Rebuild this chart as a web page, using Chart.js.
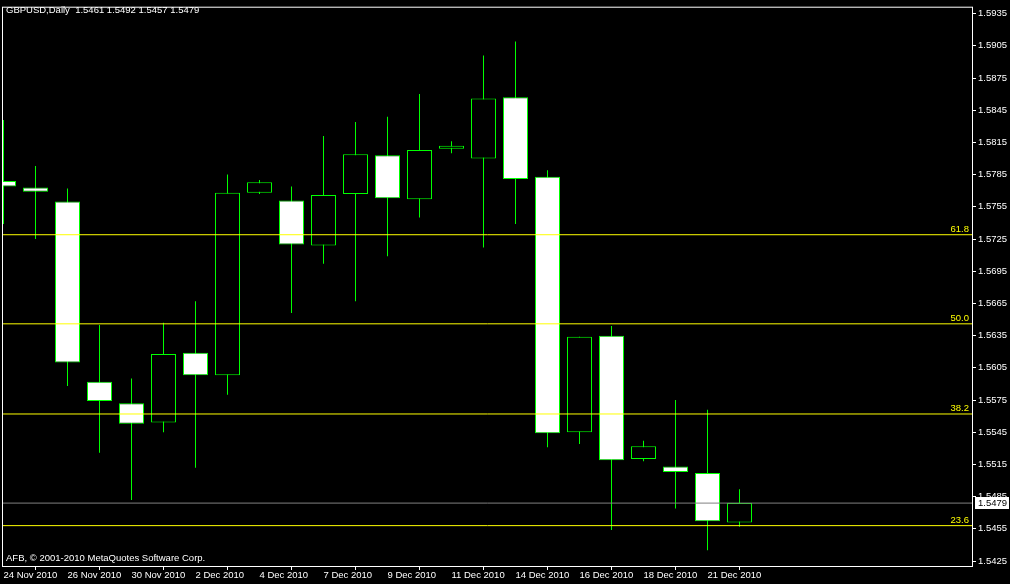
<!DOCTYPE html>
<html>
<head>
<meta charset="utf-8">
<script src="https://cdn.jsdelivr.net/npm/chart.js@4"></script>
<style>
  html, body { margin: 0; padding: 0; background: #000; }
  canvas { display: block; }
</style>
</head>
<body>
<canvas id="chart" width="1010" height="584"></canvas>
<script>
// GBPUSD daily bars
const dates = ['24 Nov 2010', '25 Nov 2010', '26 Nov 2010', '29 Nov 2010', '30 Nov 2010', '1 Dec 2010',
  '2 Dec 2010', '3 Dec 2010', '4 Dec 2010', '6 Dec 2010', '7 Dec 2010', '8 Dec 2010', '9 Dec 2010',
  '10 Dec 2010', '11 Dec 2010', '13 Dec 2010', '14 Dec 2010', '15 Dec 2010', '16 Dec 2010',
  '17 Dec 2010', '18 Dec 2010', '20 Dec 2010', '21 Dec 2010', '22 Dec 2010']
const opens  = [1.5779, 1.5773, 1.5760, 1.5592, 1.5572, 1.5554, 1.5619, 1.5598, 1.5768, 1.5761, 1.5719, 1.5767,
  1.5803, 1.5762, 1.5809, 1.5800, 1.5857, 1.5783, 1.5545, 1.5635, 1.5520, 1.5513, 1.5507, 1.5461]
const highs  = [1.5836, 1.5793, 1.5772, 1.5645, 1.5595, 1.5647, 1.5667, 1.5785, 1.5780, 1.5774, 1.5821, 1.5834,
  1.5839, 1.5860, 1.5816, 1.5896, 1.5909, 1.5789, 1.5634, 1.5644, 1.5537, 1.5575, 1.5566, 1.5492]
const lows   = [1.5739, 1.5725, 1.5588, 1.5526, 1.5482, 1.5545, 1.5512, 1.5580, 1.5767, 1.5656, 1.5702, 1.5667,
  1.5709, 1.5745, 1.5805, 1.5717, 1.5739, 1.5531, 1.5534, 1.5454, 1.5518, 1.5474, 1.5435, 1.5457]
const closes = [1.5774, 1.5769, 1.5610, 1.5574, 1.5553, 1.5618, 1.5598, 1.5768, 1.5778, 1.5720, 1.5766, 1.5804,
  1.5763, 1.5808, 1.5812, 1.5856, 1.5781, 1.5544, 1.5634, 1.5519, 1.5532, 1.5508, 1.5462, 1.5479]

const yTicks = [1.5425, 1.5455, 1.5485, 1.5515, 1.5545, 1.5575, 1.5605, 1.5635, 1.5665, 1.5695,
  1.5725, 1.5755, 1.5785, 1.5815, 1.5845, 1.5875, 1.5905, 1.5935]
const xTicks = [0, 2, 4, 6, 8, 10, 12, 14, 16, 18, 20, 22]

const fibLevels = ['23.6', '38.2', '50.0', '61.8']
const fibPrices = [1.5458, 1.5562, 1.5646, 1.5729]

const title = 'GBPUSD,Daily  1.5461 1.5492 1.5457 1.5479'
const footer = 'AFB, \u00a9 2001-2010 MetaQuotes Software Corp.'

const X_MIN = -0.015625, X_MAX = 30.265625
const Y_MIN = 1.54204, Y_MAX = 1.59405
const GREEN = '#00ff00'
const FONT = '9.5px "Liberation Sans", Arial, sans-serif'
const bid = closes[closes.length - 1]

const wickData = dates.map((d, i) => ({ x: i, y: [lows[i], highs[i]] }))
const bodyData = dates.map((d, i) => ({ x: i, y: [opens[i], closes[i]] }))
const bodyFill = dates.map((d, i) => closes[i] < opens[i] ? '#ffffff' : '#000000')

const fibSets = fibPrices.map((p) => ({
  type: 'line',
  data: [{ x: X_MIN, y: p }, { x: X_MAX, y: p }],
  borderColor: '#ffff00',
  borderWidth: 1,
  pointRadius: 0,
  order: -1
}))

const extras = {
  id: 'extras',
  beforeDraw(chart) {
    const ctx = chart.ctx
    ctx.save()
    ctx.fillStyle = '#000'
    ctx.fillRect(0, 0, chart.width, chart.height)
    ctx.restore()
  },
  afterDraw(chart) {
    const ctx = chart.ctx
    const a = chart.chartArea
    const y = chart.scales.y
    ctx.save()
    // frame
    ctx.strokeStyle = '#ffffff'
    ctx.lineWidth = 1
    ctx.strokeRect(a.left - 0.5, a.top - 0.5, a.right - a.left + 1, a.bottom - a.top + 1)

    ctx.font = FONT
    ctx.textBaseline = 'middle'
    ctx.fillStyle = '#ffffff'
    ctx.textAlign = 'left'
    ctx.fillText(title, 6, 10)
    ctx.fillText(footer, 6, 558)

    // fibo level labels
    ctx.fillStyle = '#ffff00'
    ctx.textAlign = 'right'
    ctx.textBaseline = 'bottom'
    fibPrices.forEach((p, i) => {
      ctx.fillText(fibLevels[i], a.right - 3, Math.round(y.getPixelForValue(p)) - 0.5)
    })

    // bid price box
    const by = Math.round(y.getPixelForValue(bid))
    ctx.fillStyle = '#ffffff'
    ctx.fillRect(a.right + 3, by - 6, 34, 12)
    ctx.fillStyle = '#000000'
    ctx.textAlign = 'left'
    ctx.textBaseline = 'middle'
    ctx.fillText(bid.toFixed(4), a.right + 6, by)
    ctx.restore()
  }
}

new Chart(document.getElementById('chart'), {
  type: 'bar',
  data: {
    datasets: [
      {
        type: 'bar',
        data: bodyData,
        backgroundColor: bodyFill,
        borderColor: GREEN,
        borderWidth: 1,
        borderSkipped: false,
        inflateAmount: 0,
        barThickness: 25,
        grouped: false,
        order: 0
      },
      {
        type: 'bar',
        data: wickData,
        backgroundColor: GREEN,
        borderWidth: 0,
        inflateAmount: 0,
        barThickness: 1,
        grouped: false,
        order: 1
      },
      ...fibSets,
      {
        type: 'line',
        data: [{ x: X_MIN, y: bid }, { x: X_MAX, y: bid }],
        borderColor: '#808080',
        borderWidth: 1,
        pointRadius: 0,
        order: -2
      }
    ]
  },
  options: {
    responsive: false,
    animation: false,
    devicePixelRatio: 1,
    layout: { padding: { left: 3, top: 3, right: 0, bottom: 0 } },
    plugins: { legend: { display: false }, tooltip: { enabled: false } },
    scales: {
      x: {
        type: 'linear',
        min: X_MIN,
        max: X_MAX,
        offset: false,
        afterBuildTicks: (s) => { s.ticks = xTicks.map((v) => ({ value: v })) },
        afterFit: (s) => { s.height = 18 },
        border: { display: false },
        grid: { drawOnChartArea: false, color: '#ffffff', tickLength: 4 },
        ticks: {
          color: '#ffffff',
          font: { family: '"Liberation Sans", Arial, sans-serif', size: 9.5 },
          align: 'start',
          padding: 0,
          maxRotation: 0,
          autoSkip: false,
          callback: (v) => dates[v]
        }
      },
      y: {
        position: 'right',
        min: Y_MIN,
        max: Y_MAX,
        afterBuildTicks: (s) => { s.ticks = yTicks.map((v) => ({ value: v })) },
        afterFit: (s) => { s.width = 38 },
        border: { display: false },
        grid: { drawOnChartArea: false, color: '#ffffff', tickLength: 4 },
        ticks: {
          color: '#ffffff',
          font: { family: '"Liberation Sans", Arial, sans-serif', size: 9.5 },
          padding: 2,
          autoSkip: false,
          callback: (v) => v.toFixed(4)
        }
      }
    }
  },
  plugins: [extras]
})
</script>
</body>
</html>
